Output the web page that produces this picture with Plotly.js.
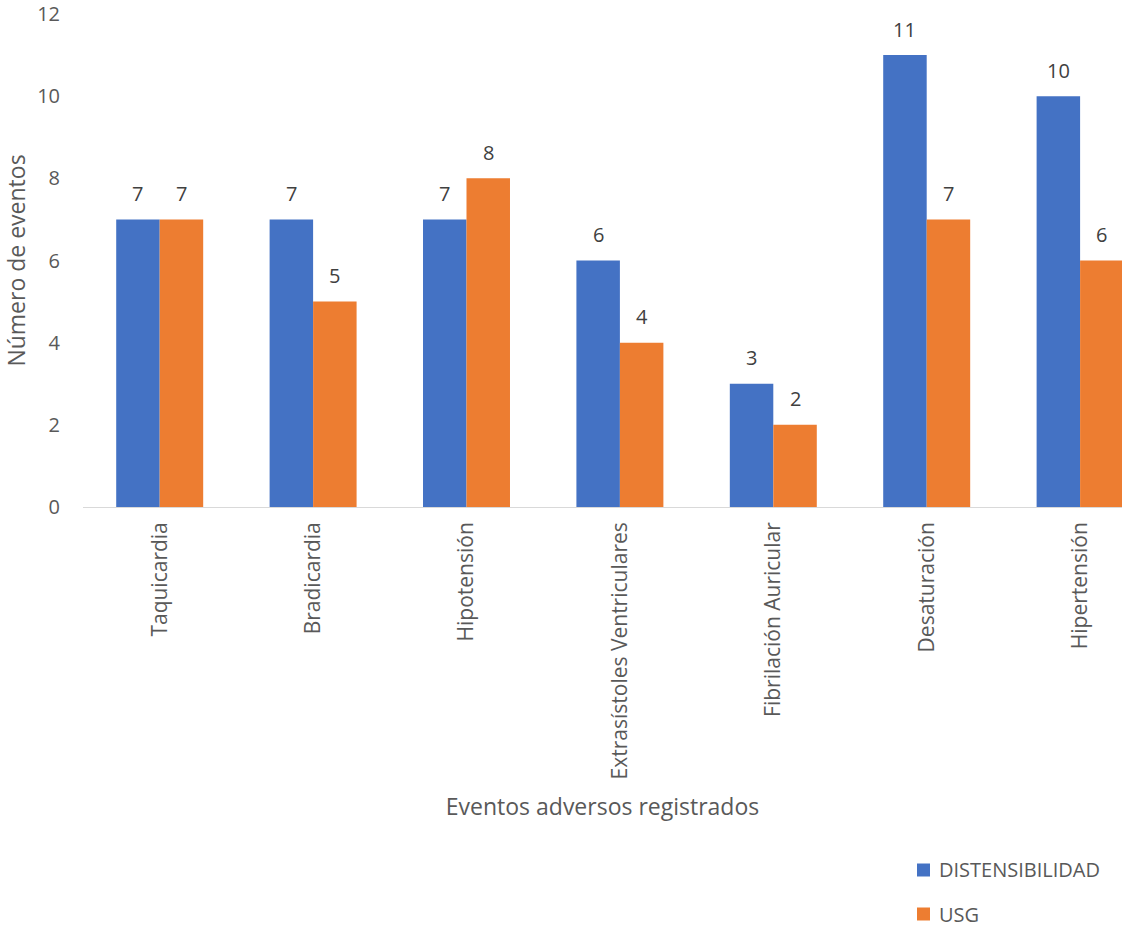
<!DOCTYPE html>
<html>
<head>
<meta charset="utf-8">
<script src="https://cdn.plot.ly/plotly-3.0.1.min.js"></script>
<style>html,body{margin:0;padding:0;background:#fff;}#chart{width:1122px;height:928px;}</style>
</head>
<body>
<div id="chart"></div>
<script>
const categories = ["Taquicardia", "Bradicardia", "Hipotensión", "Extrasístoles Ventriculares", "Fibrilación Auricular", "Desaturación", "Hipertensión"];
const distensibilidad = [7, 7, 7, 6, 3, 11, 10];
const usg = [7, 5, 8, 4, 2, 7, 6];
const seriesNames = ["DISTENSIBILIDAD", "USG"];
const seriesColors = ["#4472C4", "#ED7D31"];
const yTicks = [0, 2, 4, 6, 8, 10, 12];

const FONT = "Open Sans, Lato, sans-serif";
const W = 1122, H = 928;
const plotLeft = 83, plotRight = 1122, plotTop = 14, plotBottom = 507;
const catSpacing = 153.4;
const xMax = -0.5 + (plotRight - plotLeft) / catSpacing;
const barHalf = catSpacing * (1 - 0.433) / 4;
const px2x = p => (p - plotLeft) / (plotRight - plotLeft);
const px2y = p => (plotBottom - p) / (plotBottom - plotTop);

const traces = [distensibilidad, usg].map((vals, s) => ({
  type: "bar", name: seriesNames[s], x: categories, y: vals,
  marker: {color: seriesColors[s]}, hoverinfo: "x+y", showlegend: false
}));

const annotations = [];
[distensibilidad, usg].forEach((vals, s) => {
  vals.forEach((v, i) => {
    annotations.push({
      x: categories[i], y: v, xref: "x", yref: "y",
      text: String(v), showarrow: false,
      xshift: s === 0 ? -barHalf : barHalf, yshift: 26,
      yanchor: "middle", xanchor: "center",
      font: {family: FONT, size: 20, color: "#404040"}
    });
  });
});

// legend drawn manually (keeps the plot area fixed)
const shapes = [];
const legendRows = [870, 914];
seriesNames.forEach((name, s) => {
  const cy = legendRows[s];
  shapes.push({type: "rect", xref: "paper", yref: "paper",
    x0: px2x(917), x1: px2x(930), y0: px2y(cy - 6.5), y1: px2y(cy + 6.5),
    fillcolor: seriesColors[s], line: {width: 0}});
  annotations.push({xref: "paper", yref: "paper", x: px2x(937), y: px2y(cy),
    xanchor: "left", yanchor: "middle", showarrow: false, text: name,
    font: {family: FONT, size: 20, color: "#595959"}});
});

const layout = {
  width: W, height: H,
  margin: {l: plotLeft, r: W - plotRight, t: plotTop, b: H - plotBottom},
  paper_bgcolor: "#fff", plot_bgcolor: "#fff",
  barmode: "group", bargap: 0.433, bargroupgap: 0,
  showlegend: false,
  xaxis: {range: [-0.5, xMax], tickangle: -90, showgrid: false,
          showline: false, zeroline: false, ticks: "",
          ticklabelstandoff: 10,
          tickfont: {family: FONT, size: 21, color: "#595959"},
          title: {text: "Eventos adversos registrados", standoff: 20,
                  font: {family: FONT, size: 23, color: "#595959"}},
          automargin: false, fixedrange: true},
  yaxis: {range: [0, 12], tickvals: yTicks, ticktext: yTicks.map(String),
          showgrid: false, zeroline: true, zerolinecolor: "#D9D9D9", zerolinewidth: 1,
          showline: false, ticks: "", ticklabelstandoff: 22,
          ticklabeloverflow: "allow",
          tickfont: {family: FONT, size: 20, color: "#595959"},
          title: {text: "Número de eventos", standoff: 6,
                  font: {family: FONT, size: 23, color: "#595959"}},
          automargin: false, fixedrange: true},
  annotations: annotations,
  shapes: shapes
};

Plotly.newPlot("chart", traces, layout, {displayModeBar: false, staticPlot: true});
</script>
</body>
</html>
